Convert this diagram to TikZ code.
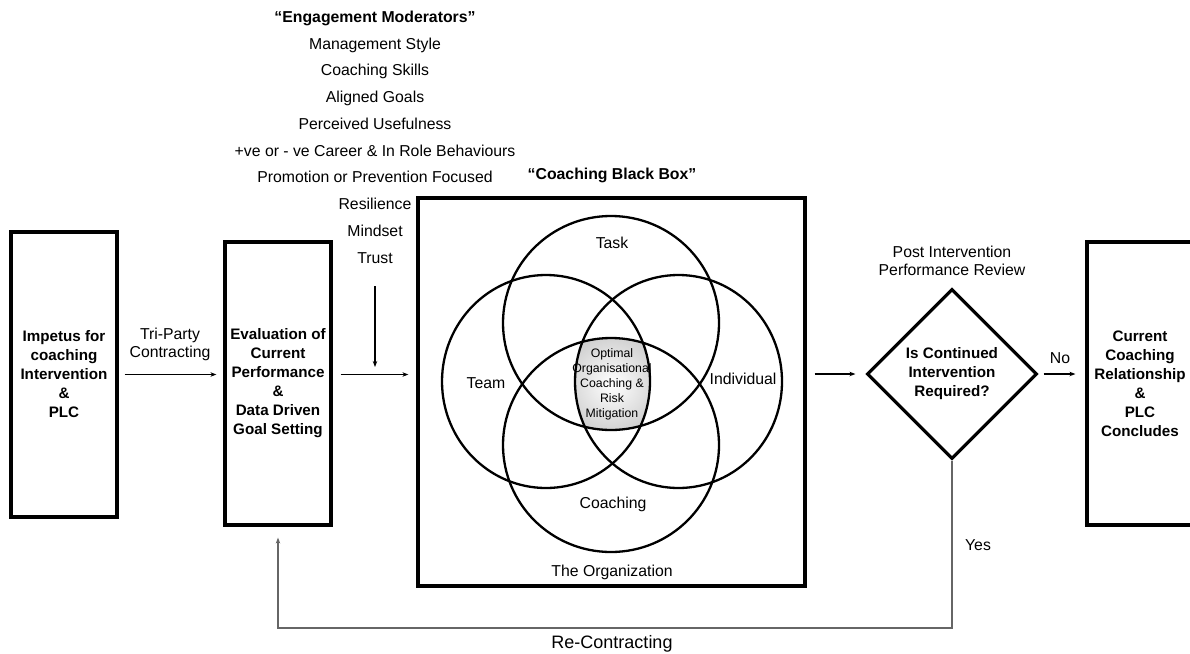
\documentclass[tikz,border=0pt]{standalone}
\usepackage{fontspec}
\setmainfont{Liberation Sans}
\usetikzlibrary{shapes.geometric,arrows.meta}
\begin{document}
\begin{tikzpicture}[x=1pt,y=-1pt,
  every node/.style={font=\fontsize{15.8}{18}\selectfont, inner sep=1pt},
  boxnode/.style={draw, line width=3.2pt, align=center, minimum width=106pt, inner sep=0pt, font=\fontsize{15.2}{19}\selectfont\bfseries},
  venn/.style={line width=2.3pt},
  arr/.style={line width=1.2pt, -{Stealth[length=6pt,width=4.5pt]}},
  back/.style={line width=1.6pt, draw=black!60, -{Stealth[length=6pt,width=4.5pt]}},
  lbl/.style={align=center}]
\useasboundingbox (0,0) rectangle (1190,653);

% boxes
\node[boxnode, minimum height=285pt] (b1) at (64,374.5) {Impetus for\\coaching\\Intervention\\\&\\PLC};
\node[boxnode, minimum height=283pt] (b2) at (278,383.5) {Evaluation of\\Current\\Performance\\\&\\Data Driven\\Goal Setting};
\node[boxnode, minimum width=387pt, minimum height=388pt] (bb) at (611.5,392) {};
\node[boxnode, minimum height=283pt] (rb) at (1140,383.5) {Current\\Coaching\\Relationship\\\&\\PLC\\Concludes};
\node[draw, diamond, line width=3.2pt, minimum width=170pt, minimum height=170pt, inner sep=0pt, align=center, font=\fontsize{15.2}{19}\selectfont\bfseries] (dia) at (952,374) {Is Continued\\Intervention\\Required?};

% moderators
\node[lbl, font=\fontsize{15.8}{26.75}\selectfont] (mods) at (375,137) {\textbf{“Engagement Moderators”}\\Management Style\\Coaching Skills\\Aligned Goals\\Perceived Usefulness\\+ve or - ve Career \& In Role Behaviours\\Promotion or Prevention Focused\\Resilience\\Mindset\\Trust};

\node[font=\fontsize{15.8}{18}\selectfont\bfseries] (bbt) at (612,175) {“Coaching Black Box”};

% Venn diagram
\begin{scope}
  \clip (611,323) ellipse [x radius=108pt, y radius=107pt];
  \clip (611,445) ellipse [x radius=108pt, y radius=107pt];
  \clip (546,381.5) ellipse [x radius=104pt, y radius=106.5pt];
  \clip (678.5,381.5) ellipse [x radius=103.5pt, y radius=106.5pt];
  \shade[inner color=white, outer color=black!30] (612,384) circle [radius=80pt];
\end{scope}
\draw[venn] (611,323) ellipse [x radius=108pt, y radius=107pt];
\draw[venn] (611,445) ellipse [x radius=108pt, y radius=107pt];
\draw[venn] (546,381.5) ellipse [x radius=104pt, y radius=106.5pt];
\draw[venn] (678.5,381.5) ellipse [x radius=103.5pt, y radius=106.5pt];

\node (task) at (612,243) {Task};
\node (team) at (486,383) {Team};
\node (indiv) at (743,379) {Individual};
\node (coach) at (613,504) {Coaching};
\node (org) at (612,572) {The Organization};
\node[lbl, font=\fontsize{12.3}{15}\selectfont] (opt) at (612,384) {Optimal\\Organisational\\Coaching \&\\Risk\\Mitigation};

% labels
\node[lbl] (tri) at (170,344) {Tri-Party\\Contracting};
\node[lbl] (post) at (952,261) {Post Intervention\\Performance Review};
\node (no) at (1060,358) {No};
\node (yes) at (978,545) {Yes};
\node[font=\fontsize{18}{21}\selectfont] (rec) at (612,644) {Re-Contracting};
\coordinate (corner) at (952,628);

% connectors
\draw[arr, shorten <=6pt, shorten >=7pt] (b1.east) -- (b1.east -| b2.west);
\draw[arr, shorten <=8pt, shorten >=8pt] (b2.east |- b1.east) -- (bb.west |- b1.east);
\draw[arr, shorten <=22pt, shorten >=7.5pt] (mods.south) -- (mods.south |- b1.east);
\draw[arr, shorten <=8pt, shorten >=10pt] (bb.east |- dia.west) -- (dia.west);
\draw[arr, shorten <=5pt, shorten >=10pt] (dia.east) -- (dia.east -| rb.west);
\draw[back, shorten >=11pt] (dia.south) -- (corner) -| (b2.south);
\end{tikzpicture}
\end{document}
